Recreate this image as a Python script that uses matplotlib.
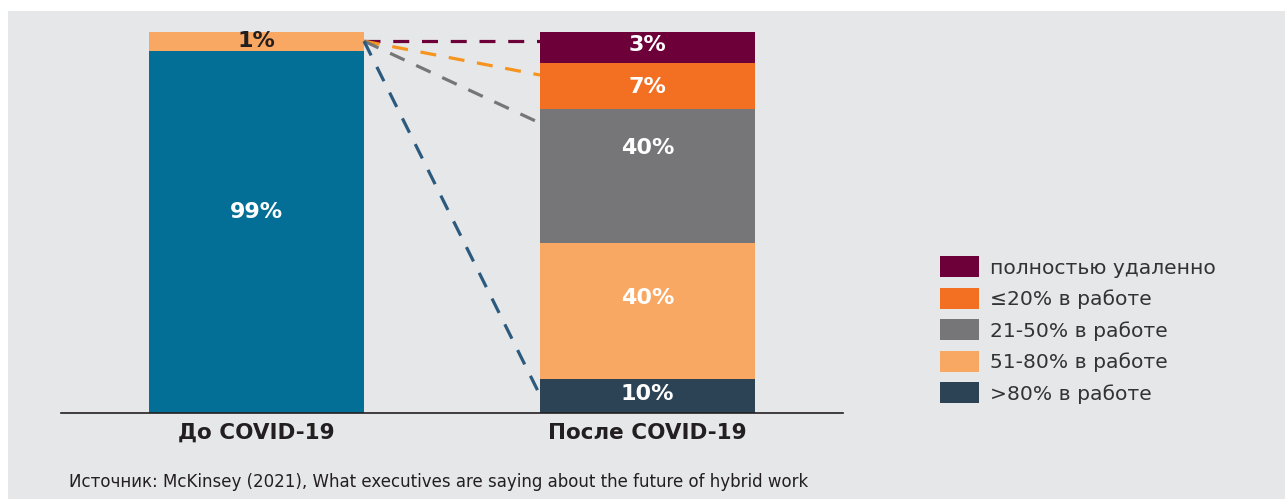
import matplotlib.pyplot as plt
from matplotlib.patches import Rectangle

# segment sizes as drawn (share of bar height), bottom to top
before_sizes = [95.0, 5.0]
before_labels = ['99%', '1%']
before_colors = ['#046f96', '#f9a864']
before_label_y = [52.8, 97.6]

after_sizes = [8.9, 35.7, 35.2, 12.1, 8.1]
after_labels = ['10%', '40%', '40%', '7%', '3%']
after_colors = ['#2c4356', '#f9a864', '#767678', '#f37022', '#6d0038']
after_label_y = [5.0, 30.2, 69.6, 85.6, 96.6]

categories = ['До COVID-19', 'После COVID-19']
legend_names = ['полностью удаленно', '≤20% в работе', '21-50% в работе',
                '51-80% в работе', '>80% в работе']

# dashed connectors: start on the 1% segment, end on the right bar
link_start = 97.6
link_ends = [97.6, 88.7, 76.1, 4.7]
link_colors = ['#6d0038', '#f7941e', '#767676', '#2b5a7e']

W, H = 1285, 499
fig = plt.figure(figsize=(W / 100, H / 100), dpi=100)
fig.patch.set_facecolor('white')
fig.patches.append(Rectangle((8 / W, 0), 1 - 8 / W, (H - 11) / H,
                             transform=fig.transFigure, facecolor='#e6e7e8',
                             edgecolor='none', zorder=-10))

ax = fig.add_axes([61 / W, 86 / H, 782 / W, 381 / H])
ax.set_facecolor('none')
width = 0.55

bottom = 0
for size, lab, col, ly in zip(before_sizes, before_labels, before_colors, before_label_y):
    ax.bar(0, size, width=width, bottom=bottom, color=col, zorder=2)
    tc = '#231f20' if lab == '1%' else 'white'
    ax.text(0, ly, lab, ha='center', va='center', color=tc,
            fontsize=16, fontweight='bold', zorder=4)
    bottom += size

bottom = 0
for size, lab, col, ly in zip(after_sizes, after_labels, after_colors, after_label_y):
    ax.bar(1, size, width=width, bottom=bottom, color=col, zorder=2)
    ax.text(1, ly, lab, ha='center', va='center', color='white',
            fontsize=16, fontweight='bold', zorder=4)
    bottom += size

for yend, col in zip(link_ends, link_colors):
    ax.plot([width / 2, 1 - width / 2], [link_start, yend], color=col,
            lw=2.3, ls=(0, (5, 4)), zorder=3)

ax.set_xlim(-0.5, 1.5)
ax.set_ylim(0, 100)
for s in ['top', 'right', 'left']:
    ax.spines[s].set_visible(False)
ax.spines['bottom'].set_color('#231f20')
ax.spines['bottom'].set_linewidth(1.2)
ax.set_yticks([])
ax.set_xticks([0, 1])
ax.set_xticklabels(categories, fontsize=15.5, fontweight='bold', color='#231f20')
ax.tick_params(axis='x', length=0, pad=7)

# legend, top entry first
legend_colors = after_colors[::-1]
for i, (name, col) in enumerate(zip(legend_names, legend_colors)):
    y = 256 + i * 31.5
    fig.patches.append(Rectangle((940 / W, 1 - (y + 21) / H), 39 / W, 21 / H,
                                 transform=fig.transFigure, facecolor=col,
                                 edgecolor='none', zorder=2))
    fig.text(990 / W, 1 - (y + 12) / H, name, ha='left', va='center',
             fontsize=14.6, color='#333333')

fig.text(69 / W, 1 - 482 / H,
         'Источник: McKinsey (2021), What executives are saying about the future of hybrid work',
         ha='left', va='center', fontsize=12, color='#231f20')

fig.savefig('out.png', dpi=100)
